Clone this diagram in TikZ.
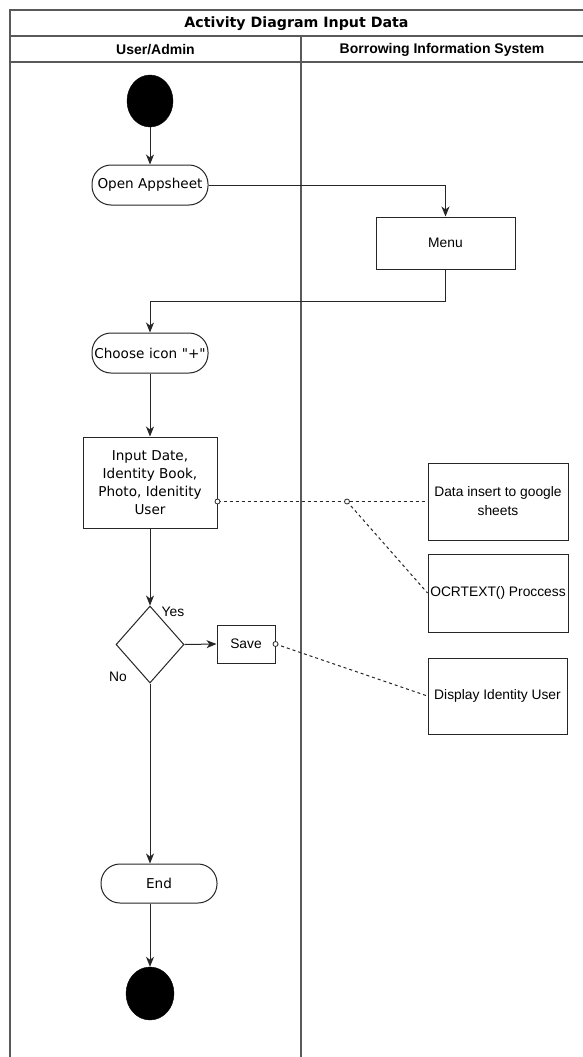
\documentclass[tikz,border=0pt]{standalone}
\usepackage{fontspec}
\setmainfont{DejaVu Sans}
\newfontfamily\arialf{Liberation Sans}
\usetikzlibrary{shapes.geometric,arrows.meta,calc}

% straight double quote, set as a glyph so the TeX ligature mapping leaves it alone
\newcommand{\straightquote}{\XeTeXglyph\the\XeTeXcharglyph"22\relax}

\tikzset{
  frameline/.style={draw=black!65, line width=1.3pt},
  act/.style={draw=black!85, line width=1pt, fill=white, inner sep=0pt,
    font=\fontsize{13.6}{18}\selectfont, align=center},
  roundact/.style={act, rounded corners=19pt},
  sysbox/.style={draw=black!85, line width=1pt, fill=white, inner sep=0pt,
    font=\arialf\fontsize{13.8}{19}\selectfont, align=center},
  dot/.style={draw=black, fill=black, ellipse, inner sep=0pt},
  flow/.style={draw=black!85, line width=1pt, -{Stealth[length=10pt,width=8pt,inset=3pt]}},
  plain/.style={draw=black!85, line width=1pt},
  link/.style={draw=black!85, line width=1pt, dash pattern=on 3pt off 3pt},
  pin/.style={draw=black!85, fill=white, line width=0.8pt},
  guard/.style={font=\arialf\fontsize{13.8}{16}\selectfont, inner sep=0pt},
}

\begin{document}
\begin{tikzpicture}[x=1pt, y=-1pt]
  \useasboundingbox (0,0) rectangle (583,1057);
  \fill[white] (0,0) rectangle (583,1057);

  % swimlane frame
  \draw[frameline] (10,1057) -- (10,10) -- (583,10);
  \draw[frameline] (10,36) -- (583,36);
  \draw[frameline] (10,62) -- (583,62);
  \draw[frameline] (301,36) -- (301,1057);
  \node[font=\bfseries\fontsize{14.2}{15}\selectfont] (title) at (296.5,23.5) {Activity Diagram Input Data};
  \node[font=\arialf\bfseries\fontsize{14}{15}\selectfont] (laneA) at (155.5,49.5) {User/Admin};
  \node[font=\arialf\bfseries\fontsize{14}{15}\selectfont] (laneB) at (442,49.5) {Borrowing Information System};

  % activity nodes
  \node[dot, minimum width=46pt, minimum height=52pt] (start) at (150,101) {};
  \node[roundact, minimum width=116pt, minimum height=40pt] (open) at (150,185) {Open Appsheet};
  \node[sysbox, minimum width=139pt, minimum height=52pt] (menu) at (445.5,243) {Menu};
  \node[roundact, minimum width=116pt, minimum height=40pt, text width=116pt] (choose) at (150,353)
    {\makebox[116pt]{Choose icon \straightquote+\straightquote}};
  \node[act, minimum width=134pt, minimum height=91pt] (input) at (150,482.5)
    {Input Date,\\Identity Book,\\Photo, Idenitity\\User};
  \node[sysbox, minimum width=140pt, minimum height=77pt] (data) at (498,501.5)
    {Data insert to google\\sheets};
  \node[sysbox, minimum width=140pt, minimum height=78pt] (ocr) at (498,593) {OCRTEXT() Proccess};
  \node[draw=black!85, line width=1pt, diamond, inner sep=0pt,
        minimum width=68pt, minimum height=77pt] (dec) at (150,644.5) {};
  \node[sysbox, minimum width=58pt, minimum height=38pt] (save) at (246,644) {Save};
  \node[sysbox, minimum width=139pt, minimum height=76pt] (disp) at (497.5,696) {Display Identity User};
  \node[roundact, minimum width=116pt, minimum height=39pt] (endn) at (159,883.5) {End};
  \node[dot, minimum width=48pt, minimum height=53pt] (stop) at (150,993.5) {};

  \node[guard] (yes) at (173,612) {Yes};
  \node[guard] (no) at (118,677) {No};

  % control flow
  \draw[flow] (start.south) -- (open.north);
  \draw[flow] (open.east) -| (menu.north);
  \coordinate (back) at (150,301);
  \draw[plain] (menu.south) |- (back);
  \draw[flow] (back) -- (choose.north);
  \draw[flow] (choose.south) -- (input.north);
  \draw[flow] (input.south) -- (dec.north);
  \draw[flow] (dec.east) -- (save.west);
  \draw[flow] (dec.south) -- (dec.south |- endn.north);
  \draw[flow] (stop.north |- endn.south) -- (stop.north);

  % object links
  \coordinate (inport) at (input.east |- data.west);
  \coordinate (split) at (347,501.5);
  \draw[link] (inport) -- (data.west);
  \draw[link] (split) -- (ocr.west);
  \draw[link] (save.east) -- (disp.west);
  \draw[pin] (inport) circle (2.5pt);
  \draw[pin] (split) circle (2.5pt);
  \draw[pin] (save.east) circle (2.5pt);
\end{tikzpicture}
\end{document}
